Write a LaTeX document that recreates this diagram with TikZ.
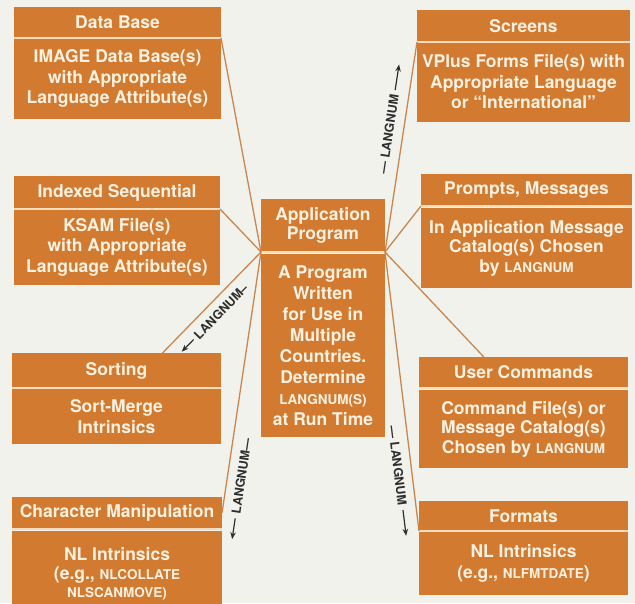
\documentclass[tikz,border=0pt]{standalone}
\usepackage{fontspec}
\setmainfont{TeX Gyre Heros}
\usetikzlibrary{arrows.meta,calc}
\definecolor{bgc}{HTML}{F2F2EC}
\definecolor{boxc}{HTML}{D17A30}
\definecolor{boxtxt}{HTML}{FBF1E1}
\definecolor{sepc}{HTML}{F6DDBB}
\definecolor{connc}{HTML}{C98650}
\definecolor{lblc}{HTML}{2E2E2E}
\newcommand\smallcap[1]{{\fontsize{13.5}{13.5}\selectfont #1}}
\begin{document}
\begin{tikzpicture}[x=1pt,y=-1pt,
  box/.style={fill=boxc, text=boxtxt, inner sep=0pt, outer sep=0pt, align=center,
    font=\fontsize{17.5}{20.5}\selectfont\bfseries},
  sepline/.style={draw=sepc, line width=1.8pt},
  conn/.style={draw=connc, line width=1.3pt},
  lbl/.style={inner sep=0pt, text=lblc, sloped, font=\fontsize{12.5}{13}\selectfont\bfseries},
  tip/.style={draw=lblc, line width=1.2pt, -{Stealth[length=7pt,width=5.5pt]}}
]
\fill[bgc] (0,0) rectangle (635,603);
\useasboundingbox (0,0) rectangle (635,603);

% boxes
\node[box, minimum width=207pt, minimum height=31pt] (dbH) at (117.5,22.5) {Data Base};
\node[box, minimum width=207pt, minimum height=81pt] (dbB) at (117.5,78.5) {IMAGE Data Base(s)\\with Appropriate\\Language Attribute(s)};

\node[box, minimum width=213pt, minimum height=32pt] (scH) at (523.5,26) {Screens};
\node[box, minimum width=213pt, minimum height=80pt] (scB) at (523.5,82) {VPlus Forms File(s) with\\Appropriate Language\\or ``International''};

\node[box, minimum width=206pt, minimum height=33pt] (isH) at (117,192.5) {Indexed Sequential};
\node[box, minimum width=206pt, minimum height=76pt] (isB) at (117,247) {KSAM File(s)\\with Appropriate\\Language Attribute(s)};

\node[box, minimum width=124pt, minimum height=53pt, font=\fontsize{17.5}{18.5}\selectfont\bfseries] (appH) at (323,225.5) {Application\\Program};
\node[box, minimum width=124pt, minimum height=183pt, font=\fontsize{17.5}{21}\selectfont\bfseries] (appB) at (323,345.5) {A Program\\Written\\for Use in\\Multiple\\Countries.\\Determine\\\smallcap{LANGNUM(S)}\\at Run Time};

\node[box, minimum width=211pt, minimum height=32pt] (prH) at (526.5,190) {Prompts, Messages};
\node[box, minimum width=211pt, minimum height=80pt, font=\fontsize{17.5}{19.5}\selectfont\bfseries] (prB) at (526.5,248) {In Application Message\\Catalog(s) Chosen\\by \smallcap{LANGNUM}};

\node[box, minimum width=209pt, minimum height=35pt] (sortH) at (116.5,370.5) {Sorting};
\node[box, minimum width=209pt, minimum height=55pt] (sortB) at (116.5,416.5) {Sort-Merge\\Intrinsics};

\node[box, minimum width=209pt, minimum height=31pt] (ucH) at (523.5,372.5) {User Commands};
\node[box, minimum width=209pt, minimum height=78pt, font=\fontsize{17.5}{19.5}\selectfont\bfseries] (ucB) at (523.5,429) {Command File(s) or\\Message Catalog(s)\\Chosen by \smallcap{LANGNUM}};

\node[box, minimum width=210pt, minimum height=32pt] (cmH) at (117,513) {Character Manipulation};
\node[box, minimum width=210pt, minimum height=87pt, font=\fontsize{17.5}{18.5}\selectfont\bfseries] (cmB) at (117,574) {NL Intrinsics\\(e.g., \smallcap{NLCOLLATE}\\\smallcap{NLSCANMOVE)}};

\node[box, minimum width=209pt, minimum height=30pt] (fmH) at (523.5,516) {Formats};
\node[box, minimum width=209pt, minimum height=63pt] (fmB) at (523.5,563.5) {NL Intrinsics\\(e.g., \smallcap{NLFMTDATE})};

% separators
\foreach \n in {db,sc,is,app,pr,sort,uc,cm,fm}
  \draw[sepline] (\n H.south west) -- (\n H.south east);

% connectors
\draw[conn] (appH.south west) -- (dbH.south east);
\draw[conn] (appH.south west) -- (isH.south east);
\draw[conn] (appH.south west) -- node[lbl, pos=0.5, below=7.5pt] (lsort) {LANGNUM–} ($(sortH.north west)!0.72!(sortH.north east)$);
\draw[conn] (appH.south west) -- node[lbl, pos=0.85, below=8.5pt] (lcm) {LANGNUM—} (cmH.east);
\draw[conn] (appH.south east) -- node[lbl, pos=0.55, above=9pt] (lsc) {— LANGNUM} (scH.south west);
\draw[conn] (appH.south east) -- (prH.south west);
\draw[conn] (appH.south east) -- ($(ucH.north west)!0.31!(ucH.north east)$);
\draw[conn] (appH.south east) -- node[lbl, pos=0.76, below=8pt] (lfm) {— LANGNUM} (fmH.south west);

% label arrows
\draw[tip] ($(lsort.west)!-3pt!(lsort.east)$) -- ($(lsort.west)!-20pt!(lsort.east)$);
\draw[tip] ($(lcm.west)!-4pt!(lcm.east)$) -- ($(lcm.west)!-25pt!(lcm.east)$);
\draw[tip] ($(lsc.east)!-4pt!(lsc.west)$) -- ($(lsc.east)!-30pt!(lsc.west)$);
\draw[tip] ($(lfm.east)!-4pt!(lfm.west)$) -- ($(lfm.east)!-30pt!(lfm.west)$);
\end{tikzpicture}
\end{document}
